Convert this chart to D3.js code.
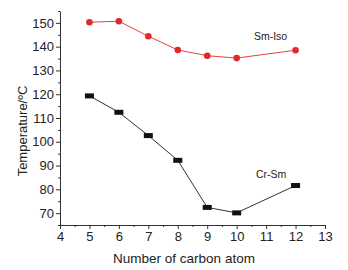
<!DOCTYPE html>
<html>
<head>
<meta charset="utf-8">
<script src="https://cdn.jsdelivr.net/npm/d3@7"></script>
<style>
  body { margin: 0; background: #fff; }
  text { font-family: "Liberation Sans", Arial, sans-serif; fill: #222; }
</style>
</head>
<body>
<script>
// carbon atom counts
let carbons = [5, 6, 7, 8, 9, 10, 12];
// Sm-Iso transition temperatures
let smIso = [150.3, 150.7, 144.4, 138.6, 136.2, 135.2, 138.5];
// Cr-Sm transition temperatures
let crSm = [119.3, 112.4, 102.6, 92.2, 72.4, 70.1, 81.6];
let xTicks = [4, 5, 6, 7, 8, 9, 10, 11, 12, 13];
let yTicks = [70, 80, 90, 100, 110, 120, 130, 140, 150];

let W = 348, H = 270;
let margins = { left: 60, top: 11, right: 23, bottom: 45 };
let svg = d3.select("body").append("svg")
  .attr("width", W)
  .attr("height", H);

let xScale = d3.scaleLinear().domain([4, 13]).range([margins.left, W - margins.right]);
let yScale = d3.scaleLinear().domain([65, 155]).range([H - margins.bottom, margins.top]);

// minor ticks
let xMinor = d3.range(4.5, 13, 1);
let yMinor = d3.range(65, 156, 10);

svg.append("g")
  .attr("transform", `translate(0, ${H - margins.bottom})`)
  .call(d3.axisBottom(xScale).tickValues(xTicks).tickSize(4).tickSizeOuter(0).tickPadding(3));
svg.append("g")
  .attr("transform", `translate(0, ${H - margins.bottom})`)
  .call(d3.axisBottom(xScale).tickValues(xMinor).tickSize(2).tickFormat(""))
  .select(".domain").remove();

svg.append("g")
  .attr("transform", `translate(${margins.left}, 0)`)
  .call(d3.axisLeft(yScale).tickValues(yTicks).tickSize(4).tickSizeOuter(0).tickPadding(2));
svg.append("g")
  .attr("transform", `translate(${margins.left}, 0)`)
  .call(d3.axisLeft(yScale).tickValues(yMinor).tickSize(2).tickFormat(""))
  .select(".domain").remove();

svg.selectAll(".domain, .tick line").attr("stroke", "#333").attr("stroke-width", 1);
svg.selectAll(".tick text").style("font-size", "13px").attr("fill", "#222");

// lines
let smData = carbons.map((c, i) => [c, smIso[i]]);
let crData = carbons.map((c, i) => [c, crSm[i]]);
let line = d3.line().x(d => xScale(d[0])).y(d => yScale(d[1]));

svg.append("path").datum(smData)
  .attr("d", line).attr("fill", "none")
  .attr("stroke", "#e8403a").attr("stroke-width", 1);
svg.selectAll("circle.sm").data(smData).join("circle")
  .attr("class", "sm")
  .attr("cx", d => xScale(d[0])).attr("cy", d => yScale(d[1]))
  .attr("r", 3.3).attr("fill", "#e02a2a");

svg.append("path").datum(crData)
  .attr("d", line).attr("fill", "none")
  .attr("stroke", "#333").attr("stroke-width", 1);
svg.selectAll("rect.cr").data(crData).join("rect")
  .attr("class", "cr")
  .attr("x", d => xScale(d[0]) - 4.5).attr("y", d => yScale(d[1]) - 2.5)
  .attr("width", 9).attr("height", 5).attr("fill", "#111");

// series labels
svg.append("text").text("Sm-Iso")
  .attr("x", xScale(11.15)).attr("y", yScale(142.9))
  .attr("text-anchor", "middle").style("font-size", "10.5px");
svg.append("text").text("Cr-Sm")
  .attr("x", xScale(11.17)).attr("y", yScale(84.7))
  .attr("text-anchor", "middle").style("font-size", "10.5px");

// axis titles
svg.append("text").text("Number of carbon atom")
  .attr("x", 184).attr("y", H - 7)
  .attr("text-anchor", "middle").style("font-size", "13.5px");
svg.append("text").text("Temperature/\u00BAC")
  .attr("transform", `translate(27, 131) rotate(-90)`)
  .attr("text-anchor", "middle").style("font-size", "13px");
</script>
</body>
</html>
